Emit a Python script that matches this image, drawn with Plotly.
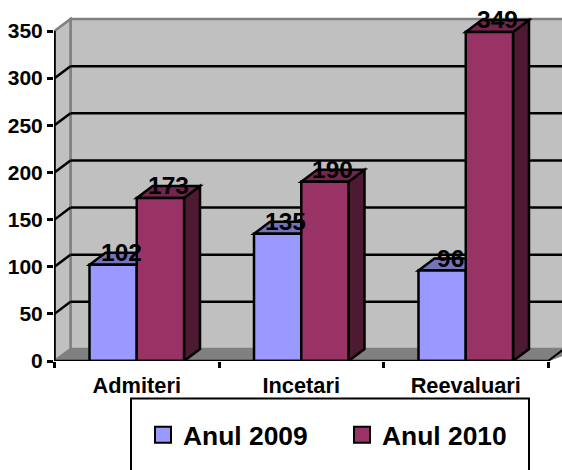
import plotly.graph_objects as go

categories = ["Admiteri", "Incetari", "Reevaluari"]
anul_2009 = [102, 135, 96]
anul_2010 = [173, 190, 349]
y_ticks = [0, 50, 100, 150, 200, 250, 300, 350]

W, H = 562, 470
L, B = 54, 109
PX_CAT = 164.5          # pixels per category
PX_VAL = 330 / 350      # pixels per value unit
DX = 16 / PX_CAT        # 3-D depth in data units
DY = 12 / PX_VAL
BAR_W = 47.25 / PX_CAT
RIGHT = 2.5 + 2 * DX
OUTLINE = 2.5

BLUE, BLUE_TOP, BLUE_SIDE = "#9999FF", "#7373BF", "#4D4D80"
RED, RED_TOP, RED_SIDE = "#993366", "#73264D", "#4D1933"
WALL, FLOOR = "#C0C0C0", "#808080"


def poly(points, fill, line="black", width=OUTLINE, layer="below"):
    path = "M" + " L".join(f"{x},{y}" for x, y in points) + " Z"
    return dict(type="path", path=path, xref="x", yref="y", fillcolor=fill,
                line=dict(color=line, width=width), layer=layer)


def seg(x0, y0, x1, y1, color="black", width=2.5, layer="below"):
    return dict(type="line", x0=x0, y0=y0, x1=x1, y1=y1, xref="x", yref="y",
                line=dict(color=color, width=width), layer=layer)


top = y_ticks[-1]
shapes = [
    poly([(-0.5 + DX, DY), (RIGHT, DY), (RIGHT, top + DY), (-0.5 + DX, top + DY)], WALL, FLOOR, 2.5),
    poly([(-0.5, 0), (-0.5 + DX, DY), (-0.5 + DX, top + DY), (-0.5, top)], WALL, FLOOR, 2.5),
    poly([(-0.5, 0), (-0.5 + DX, DY), (RIGHT, DY), (2.5, 0)], FLOOR, FLOOR, 1),
    seg(2.5, 0, 2.5 + DX, DY, "black", 2),
]
for v in y_ticks[1:-1]:
    shapes.append(seg(-0.5, v, -0.5 + DX, v + DY))
    shapes.append(seg(-0.5 + DX, v + DY, RIGHT, v + DY))


def faces(x0, x1, v, top_color, side_color):
    return [
        poly([(x1, 0), (x1 + DX, DY), (x1 + DX, v + DY), (x1, v)], side_color),
        poly([(x0, v), (x0 + DX, v + DY), (x1 + DX, v + DY), (x1, v)], top_color),
    ]


LABEL_FONT = dict(size=24.5, color="black", family="Liberation Sans", weight="bold")
annotations = []
for i in range(len(categories)):
    shapes += faces(i - BAR_W, i, anul_2009[i], BLUE_TOP, BLUE_SIDE)
    annotations.append(dict(x=i - BAR_W / 2 + DX / 2, y=anul_2009[i] + DY, text=str(anul_2009[i]),
                            showarrow=False, font=LABEL_FONT, xanchor="center", yanchor="middle"))
for i in range(len(categories)):
    shapes += faces(i, i + BAR_W, anul_2010[i], RED_TOP, RED_SIDE)
    annotations.append(dict(x=i + BAR_W / 2 + DX / 2, y=anul_2010[i] + DY, text=str(anul_2010[i]),
                            showarrow=False, font=LABEL_FONT, xanchor="center", yanchor="middle"))

plot_w, plot_h = W - L, H - B


def px(x):
    return (x - L) / plot_w


def py(y):
    return (plot_h - y) / plot_h


shapes.append(dict(type="rect", xref="paper", yref="paper", x0=px(131), x1=px(529), y0=py(475), y1=py(398.5),
                   line=dict(color="black", width=2), fillcolor="white", layer="above"))

fig = go.Figure()
fig.add_bar(x=list(range(3)), y=anul_2009, name="Anul 2009", showlegend=False,
            marker=dict(color=BLUE, line=dict(color="black", width=OUTLINE)))
fig.add_bar(x=list(range(3)), y=anul_2010, name="Anul 2010", showlegend=False,
            marker=dict(color=RED, line=dict(color="black", width=OUTLINE)))
# axis lines, ending where the front plane ends
fig.add_scatter(x=[-0.5, 2.5], y=[0, 0], mode="lines", line=dict(color="black", width=2.5),
                cliponaxis=False, showlegend=False, hoverinfo="skip")
fig.add_scatter(x=[-0.5, -0.5], y=[0, top], mode="lines", line=dict(color="black", width=2.5),
                cliponaxis=False, showlegend=False, hoverinfo="skip")
# legend entries
for name, color in (("Anul 2009", BLUE), ("Anul 2010", RED)):
    fig.add_scatter(x=[None], y=[None], mode="markers", name=name,
                    marker=dict(symbol="square", size=16, color=color, line=dict(color="black", width=2)))

x0 = -0.5 - 0.5 / PX_CAT
fig.update_layout(
    width=W, height=H, autosize=False,
    margin=dict(l=L, r=0, t=0, b=B, pad=0),
    paper_bgcolor="white", plot_bgcolor="white",
    barmode="group", bargap=1 - 2 * BAR_W, bargroupgap=0,
    font=dict(family="Liberation Sans", color="black"),
    shapes=shapes, annotations=annotations,
    xaxis=dict(range=[x0, x0 + plot_w / PX_CAT], tickmode="array", tickvals=[0, 1, 2], ticktext=categories,
               ticks="", showgrid=False, zeroline=False, showline=False,
               tickfont=dict(size=21.8, family="Liberation Sans", weight="bold"),
               ticklabelstandoff=9,
               minor=dict(tickmode="array", tickvals=[-0.5, 0.5, 1.5, 2.5], ticks="outside", ticklen=6,
                          tickwidth=2.5, tickcolor="black", showgrid=False)),
    yaxis=dict(range=[0, plot_h / PX_VAL], tickmode="array", tickvals=y_ticks, ticks="outside", ticklen=6,
               tickwidth=2.5, tickcolor="black", showgrid=False, zeroline=False, showline=False,
               tickfont=dict(size=21, family="Liberation Sans", weight="bold")),
    legend=dict(orientation="h", x=px(143), xanchor="left", y=py(435), yanchor="middle",
                bgcolor="rgba(0,0,0,0)", borderwidth=0, entrywidth=154, entrywidthmode="pixels",
                font=dict(size=26.4, family="Liberation Sans", weight="bold", color="black"),
                itemclick=False, itemdoubleclick=False),
)
fig.write_html("out.html", config=dict(displayModeBar=False),
               post_script="document.body.style.margin='0';document.documentElement.style.overflow='hidden';")
